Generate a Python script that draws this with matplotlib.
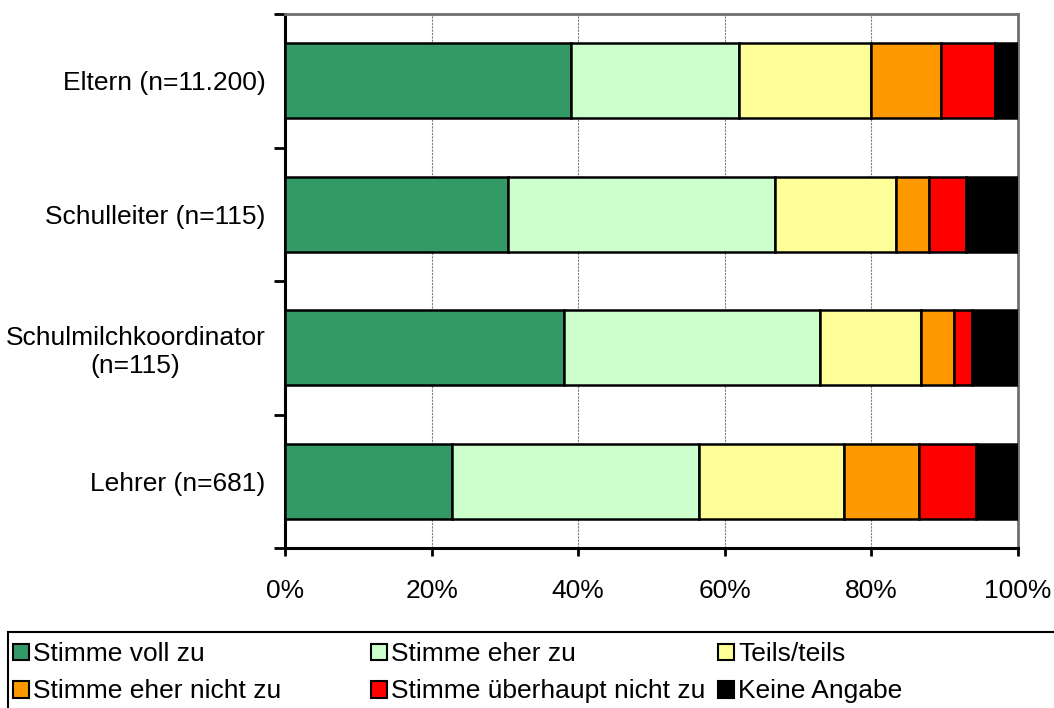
import matplotlib
matplotlib.use("Agg")
import matplotlib.pyplot as plt
from matplotlib.patches import Patch, Rectangle
import numpy as np

plt.rcParams['font.family'] = ['Liberation Sans', 'DejaVu Sans']

# categories top to bottom
groups = ["Eltern (n=11.200)", "Schulleiter (n=115)",
          "Schulmilchkoordinator\n(n=115)", "Lehrer (n=681)"]
answers = ["Stimme voll zu", "Stimme eher zu", "Teils/teils",
           "Stimme eher nicht zu", "Stimme überhaupt nicht zu", "Keine Angabe"]
colors = ["#339966", "#CCFFCC", "#FFFF99", "#FF9900", "#FF0000", "#000000"]

# shares in percent, one list per answer, order as groups
voll_zu = [39.0, 30.4, 38.1, 22.8]
eher_zu = [22.9, 36.5, 34.9, 33.7]
teils = [18.1, 16.5, 13.8, 19.8]
eher_nicht = [9.5, 4.5, 4.5, 10.2]
ueberhaupt_nicht = [7.4, 5.0, 2.4, 7.8]
keine_angabe = [3.1, 7.1, 6.3, 5.7]

series = [voll_zu, eher_zu, teils, eher_nicht, ueberhaupt_nicht, keine_angabe]

fig = plt.figure(figsize=(10.54, 7.08), dpi=100)
ax = fig.add_axes([285/1054, 1 - 548/708, (1018 - 285)/1054, (548 - 14)/708])

ypos = np.arange(len(groups))[::-1]
left = np.zeros(len(groups))
for vals, col, name in zip(series, colors, answers):
    v = np.array(vals) / 100.0
    ax.barh(ypos, v, left=left, height=0.56, color=col, edgecolor="black",
            linewidth=1.8, label=name, zorder=3)
    left += v

ax.set_xlim(0, 1)
ax.set_ylim(-0.5, len(groups) - 0.5)
ax.set_xticks(np.arange(0, 1.01, 0.2))
ax.set_xticklabels([f"{int(round(t*100))}%" for t in np.arange(0, 1.01, 0.2)])
ax.set_yticks(ypos)
ax.set_yticklabels(groups, multialignment="center")
ax.set_yticks(np.arange(-0.5, len(groups)), minor=True)
ax.tick_params(axis="y", which="major", length=0, pad=14, labelsize=19)
ax.tick_params(axis="y", which="minor", length=8, width=2, direction="out")
ax.tick_params(axis="x", length=6, width=2, direction="out", pad=16, labelsize=19)

ax.grid(axis="x", color="#808080", linestyle=(0, (2, 1)), linewidth=0.8, zorder=0)
ax.set_axisbelow(True)
for s in ["left", "bottom"]:
    ax.spines[s].set_linewidth(2.2)
    ax.spines[s].set_color("black")
for s in ["top", "right"]:
    ax.spines[s].set_linewidth(2)
    ax.spines[s].set_color("#707070")

# legend frame (runs past the right edge as in the original)
fig.patches.append(Rectangle((8/1054, 1 - 720/708), 1.2, (720 - 632)/708,
                             transform=fig.transFigure, fill=False,
                             edgecolor="black", linewidth=1.5))

handles = [Patch(facecolor=c, edgecolor="black", linewidth=1.5) for c in colors]
col_x = [8, 366, 713]
for i, x in enumerate(col_x):
    hs = [handles[i], handles[i + 3]]
    ls = [answers[i], answers[i + 3]]
    fig.legend(hs, ls, loc="upper left",
               bbox_to_anchor=(x/1054, 1 - 637/708), frameon=False,
               fontsize=19, handlelength=0.6, handleheight=0.6,
               handletextpad=0.15, labelspacing=0.5, borderpad=0.2,
               borderaxespad=0)

fig.savefig("out.png", dpi=100)
